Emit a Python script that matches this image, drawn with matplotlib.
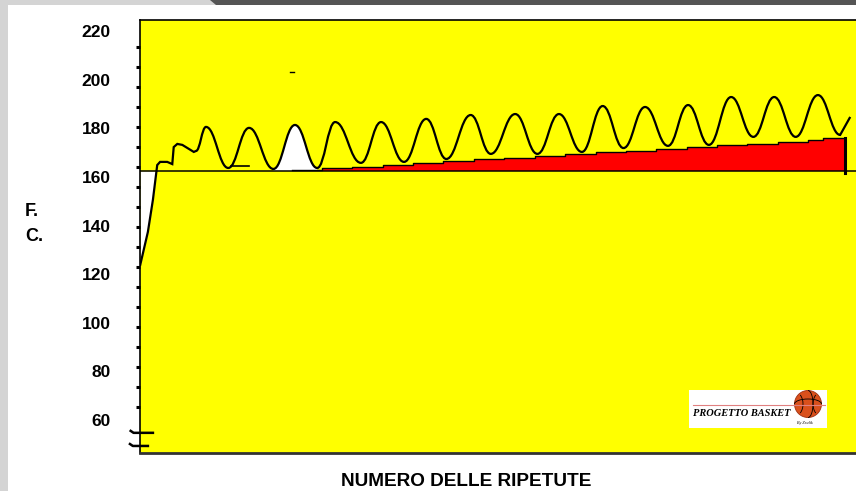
import matplotlib
matplotlib.use("Agg")
import matplotlib.pyplot as plt
import numpy as np
from matplotlib.path import Path
from matplotlib.patches import PathPatch, Rectangle, Polygon, Circle, Arc

# heart rate trace (x = time, arbitrary units 0..100, y = beats/min)
rise_x = [0.0, 1.1, 1.8, 2.3, 2.4, 2.8, 3.8, 4.5, 4.7, 5.2, 5.9, 7.5, 7.8]
rise_y = [123.4, 137.4, 150.6, 162.5, 164.9, 166.2, 166.2, 165.3, 172.3, 173.6, 173.2, 170.3, 170.7]

# peaks / troughs of the repetitions
wave_x = [9.2, 12.3, 15.2, 18.6, 21.6, 24.7, 27.2, 30.8, 33.6, 36.8, 39.9, 42.7,
          46.1, 48.9, 52.3, 55.4, 58.4, 61.6, 64.5, 67.4, 70.4, 73.6, 76.4, 79.3,
          82.4, 85.5, 88.4, 91.4, 94.5, 97.6]
wave_y = [180.6, 163.7, 180.2, 163.3, 181.4, 163.7, 182.6, 165.8, 182.6, 166.2, 183.9, 167.4,
          185.5, 169.5, 185.9, 169.5, 185.9, 170.3, 189.2, 171.9, 188.8, 172.8, 189.6, 173.2,
          192.9, 176.5, 192.9, 176.5, 193.7, 177.3]
end_x, end_y = 99.0, 184.7

baseline = 162.5
white_peak = slice(3, 6)

# red "debt" area, stepped
red_x = [21.2, 25.4, 29.6, 33.9, 38.1, 42.3, 46.5, 50.8, 55.0, 59.2, 63.5, 67.7,
         71.9, 76.2, 80.4, 84.6, 88.9, 93.1, 95.2, 98.3]
red_y = [162.9, 163.6, 164.3, 165.0, 165.8, 166.5, 167.2, 167.9, 168.6, 169.3, 170.1, 170.8,
         171.5, 172.2, 173.0, 173.7, 174.4, 175.1, 176.0, 176.0]

yticks = [60, 80, 100, 120, 140, 160, 180, 200, 220]

W, H = 856, 491
FONT = ["Liberation Sans Narrow", "Liberation Sans"]


def fx(px):
    return px / W


def fy(py):
    return 1 - py / H


def smooth(xs, ys, k=0.42, start=True):
    verts, codes = [], []
    if start:
        verts.append((xs[0], ys[0]))
        codes.append(Path.MOVETO)
    for x0, y0, x1, y1 in zip(xs[:-1], ys[:-1], xs[1:], ys[1:]):
        dx = x1 - x0
        verts += [(x0 + k * dx, y0), (x1 - k * dx, y1), (x1, y1)]
        codes += [Path.CURVE4] * 3
    return verts, codes


fig = plt.figure(figsize=(W / 100, H / 100), dpi=100)
fig.patch.set_facecolor("white")

# frame decorations
fig.add_artist(Rectangle((0, 0), fx(8), 1, transform=fig.transFigure, color="#d4d4d4", lw=0))
fig.add_artist(Rectangle((0, fy(5)), 1, 5 / H, transform=fig.transFigure, color="#d4d4d4", lw=0))
fig.add_artist(Polygon([(fx(210), 1), (1, 1), (1, fy(5)), (fx(216), fy(5))],
                       transform=fig.transFigure, color="#555555", lw=0))

ax = fig.add_axes([fx(140), fy(453), fx(W - 140) + 0.01, (453 - 20) / H])
ax.set_facecolor("#ffff00")
ax.set_xlim(0, 101)
ax.set_ylim(46.4, 224.6)

# white area under the initial rise
ax.fill_between(rise_x[:4], rise_y[:4], baseline, color="white", lw=0, zorder=1)

# white peak
pv, pc = smooth(wave_x[white_peak], wave_y[white_peak])
pv += [(wave_x[white_peak][-1], baseline), (wave_x[white_peak][0], baseline), (0, 0)]
pc += [Path.LINETO, Path.LINETO, Path.CLOSEPOLY]
ax.add_patch(PathPatch(Path(pv, pc), facecolor="white", lw=0, zorder=1))

# red area
ax.fill_between(red_x, red_y, baseline, step="post", color="#ff0000", lw=0, zorder=2)
ax.step(red_x, red_y, where="post", color="black", lw=1.0, zorder=3)
ax.plot([red_x[-1], red_x[-1]], [red_y[-1], baseline - 0.9], color="black", lw=2.2, zorder=3)

# baseline
ax.plot([0, 99.9], [baseline, baseline], color="black", lw=1.1, zorder=3)

# heart rate curve
verts = list(zip(rise_x, rise_y))
codes = [Path.MOVETO] + [Path.LINETO] * (len(rise_x) - 1)
v2, c2 = smooth([rise_x[-1]] + wave_x, [rise_y[-1]] + wave_y, start=False)
verts += v2 + [(end_x, end_y)]
codes += c2 + [Path.LINETO]
ax.add_patch(PathPatch(Path(verts, codes), facecolor="none", edgecolor="black", lw=1.6, zorder=4))

# small marks
ax.plot([12.7, 15.2], [164.5, 164.5], color="black", lw=1.2, zorder=4)
ax.plot([20.9, 21.5], [203.2, 203.2], color="black", lw=1.0, zorder=4)

# axis break marks
ax.plot([-1.3, -0.9, 1.8], [55.5, 54.7, 54.7], color="black", lw=1.8, clip_on=False, zorder=5)
ax.plot([-1.4, -1.0, 1.1], [50.1, 49.3, 49.3], color="black", lw=1.8, clip_on=False, zorder=5)

# axes styling
ax.set_xticks([])
ax.set_yticks(yticks)
ax.set_yticklabels([str(t) for t in yticks], fontsize=12.5, fontweight="bold", family=FONT)
ax.tick_params(axis="y", which="major", length=0, pad=21)
ax.set_yticks(np.arange(213.5, 60, -8.23), minor=True)
ax.tick_params(axis="y", which="minor", length=3, width=2.2, direction="out", color="black")
for s in ["top", "left"]:
    ax.spines[s].set_color("black")
    ax.spines[s].set_linewidth(1.2)
ax.spines["bottom"].set_color("#333333")
ax.spines["bottom"].set_linewidth(2)
ax.spines["right"].set_visible(False)

# labels
fig.text(fx(25), fy(211), "F.", fontsize=13, fontweight="bold", va="center", ha="left", family=FONT)
fig.text(fx(25), fy(236), "C.", fontsize=13, fontweight="bold", va="center", ha="left", family=FONT)
fig.text(fx(466), fy(481), "NUMERO DELLE RIPETUTE", fontsize=13.7, fontweight="bold",
         va="center", ha="center", family=FONT)

# logo
lg = fig.add_axes([fx(689), fy(428), 138 / W, 38 / H])
lg.set_xlim(0, 138)
lg.set_ylim(0, 38)
lg.axis("off")
lg.add_patch(Rectangle((0, 0), 138, 38, color="white", lw=0))
lg.plot([4, 136], [23, 23], color="#e08080", lw=0.8)
lg.text(4, 15, "PROGETTO BASKET", fontsize=7.5, fontweight="bold", style="italic",
        family="Liberation Serif", va="center", ha="left")
lg.text(116, 5, "By Zeulik", fontsize=3, style="italic", family="Liberation Serif",
        va="center", ha="center")
lg.add_patch(Circle((119, 24), 13.5, facecolor="#d9501c", edgecolor="#a03010", lw=0.6, clip_on=False))
lg.add_patch(Arc((119, 24), 10, 27, theta1=-90, theta2=90, color="black", lw=0.6, clip_on=False))
lg.add_patch(Arc((119, 24), 27, 10, theta1=0, theta2=180, color="black", lw=0.6, clip_on=False))
lg.add_patch(Arc((106, 24), 16, 24, theta1=-60, theta2=60, color="black", lw=0.6, clip_on=False))
lg.add_patch(Arc((132, 24), 16, 24, theta1=120, theta2=240, color="black", lw=0.6, clip_on=False))

fig.savefig("out.png", dpi=100)
